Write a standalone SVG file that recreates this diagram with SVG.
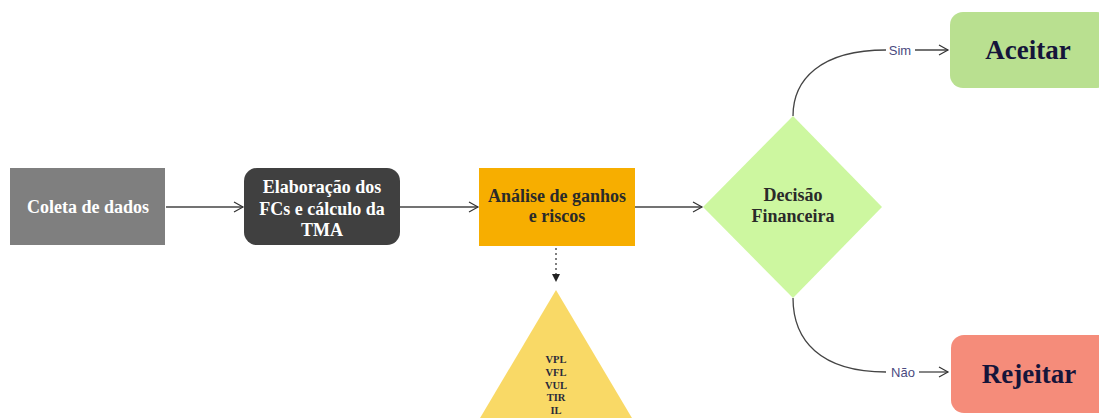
<svg xmlns="http://www.w3.org/2000/svg" width="1099" height="418" viewBox="0 0 1099 418">
<defs>
<marker id="open" markerWidth="12" markerHeight="12" refX="10" refY="6" orient="auto" markerUnits="userSpaceOnUse">
<path d="M1,1 L10,6 L1,11" fill="none" stroke="#333" stroke-width="1.2"/>
</marker>
<marker id="solid" markerWidth="10" markerHeight="10" refX="5" refY="9" orient="0" markerUnits="userSpaceOnUse">
<path d="M1,1 L9,1 L5,9 Z" fill="#222"/>
</marker>
</defs>
<style>
.t{font-family:"Liberation Serif",serif;font-weight:bold;text-anchor:middle}
.w{fill:#ffffff;font-size:18px}
.d{fill:#2a2a2a;font-size:18px}
.big{fill:#15153a;font-size:27px}
.sm{fill:#2a2a3a;font-size:10.5px}
.lbl{font-family:"Liberation Sans",sans-serif;font-size:13px;fill:#4a4a80;text-anchor:middle}
.c{fill:none;stroke:#444;stroke-width:1.3}
</style>
<rect width="1099" height="418" fill="#ffffff"/>
<g id="connectors">
<line class="c" x1="166" y1="207" x2="243" y2="207" marker-end="url(#open)"/>
<line class="c" x1="400" y1="207" x2="478" y2="207" marker-end="url(#open)"/>
<line class="c" x1="635" y1="207" x2="702" y2="207" marker-end="url(#open)"/>
<line x1="556" y1="248" x2="556" y2="282" stroke="#555" stroke-width="1.5" stroke-dasharray="2,3" marker-end="url(#solid)"/>
<path class="c" d="M793,116 C793,80 820,50 886,50"/>
<line class="c" x1="915" y1="50" x2="948" y2="50" marker-end="url(#open)"/>
<path class="c" d="M793,298 C793,340 820,372 886,372"/>
<line class="c" x1="919" y1="372" x2="948" y2="372" marker-end="url(#open)"/>
<text class="lbl" x="900" y="55">Sim</text>
<text class="lbl" x="903" y="377">Não</text>
</g>
<g id="coleta">
<rect x="10" y="168" width="155" height="77" fill="#7f7f7f"/>
<text class="t w" x="88" y="213">Coleta de dados</text>
</g>
<g id="elaboracao">
<rect x="244" y="168" width="156" height="77" rx="13" fill="#404040"/>
<text class="t w" x="322" y="193">Elaboração dos</text>
<text class="t w" x="322" y="215">FCs e cálculo da</text>
<text class="t w" x="322" y="236">TMA</text>
</g>
<g id="analise">
<rect x="479" y="168" width="156" height="78" fill="#f7ae00"/>
<text class="t d" x="557" y="202">Análise de ganhos</text>
<text class="t d" x="557" y="222">e riscos</text>
</g>
<g id="triangulo">
<polygon points="556,290 467,440 645,440" fill="#f9d966"/>
<text class="t sm" x="556" y="363">VPL</text>
<text class="t sm" x="556" y="376">VFL</text>
<text class="t sm" x="556" y="389">VUL</text>
<text class="t sm" x="556" y="401">TIR</text>
<text class="t sm" x="556" y="414">IL</text>
</g>
<g id="decisao">
<polygon points="793,116 882,207 793,298 703,207" fill="#cdf7a0"/>
<text class="t d" x="793" y="201">Decisão</text>
<text class="t d" x="793" y="222">Financeira</text>
</g>
<g id="aceitar">
<rect x="950" y="12" width="160" height="76" rx="13" fill="#b9e090"/>
<text class="t big" x="1028" y="59">Aceitar</text>
</g>
<g id="rejeitar">
<rect x="951" y="335" width="160" height="78" rx="13" fill="#f58c7a"/>
<text class="t big" x="1029" y="383">Rejeitar</text>
</g>
</svg>
